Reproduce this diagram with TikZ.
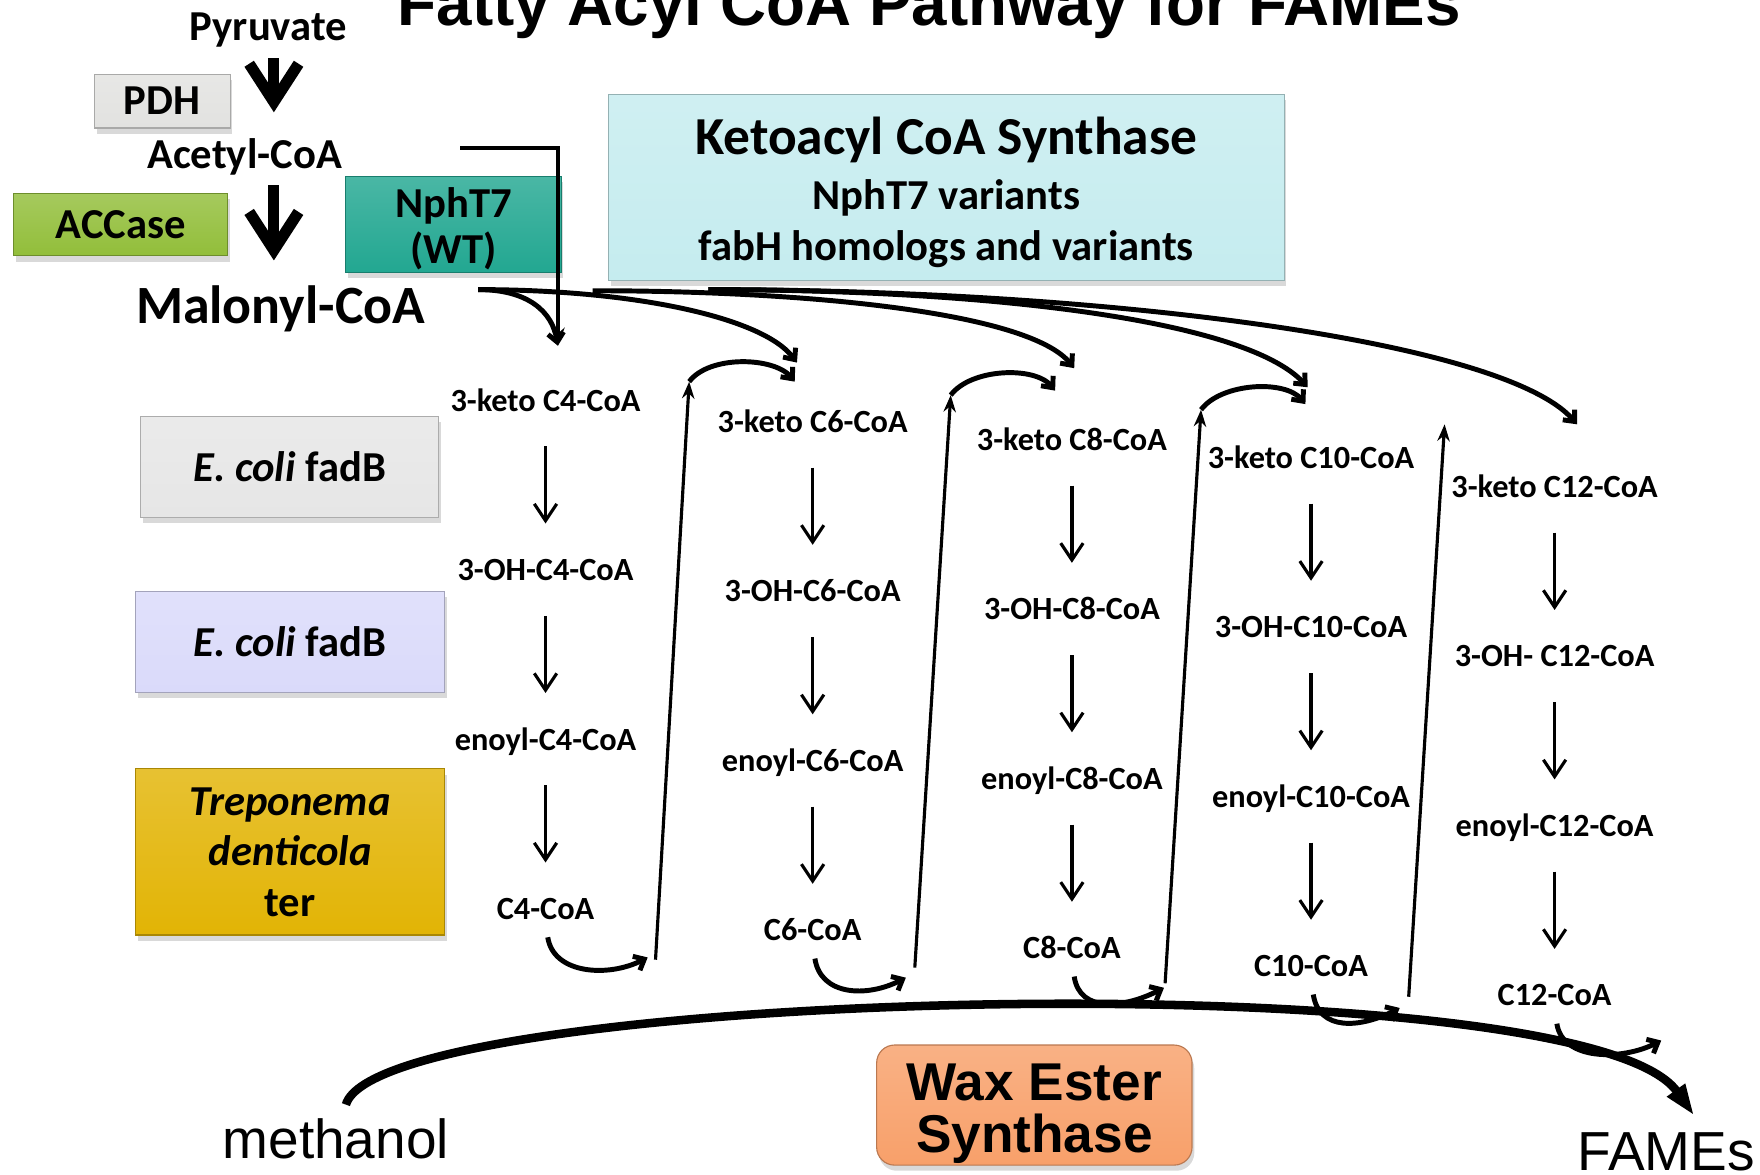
\documentclass[tikz,border=0pt]{standalone}
\usepackage{fontspec}
\setmainfont{Carlito}
\newfontfamily\arialfont{Liberation Sans}
\usepackage{tikz}
\usetikzlibrary{arrows.meta}
\usetikzlibrary{shadows}

\definecolor{pdhgray}{HTML}{E2E2E0}
\definecolor{accgreen}{HTML}{92BE3A}
\definecolor{nphteal}{HTML}{22A791}
\definecolor{kscyan}{HTML}{C5ECEF}
\definecolor{fadgray}{HTML}{E6E6E6}
\definecolor{fadlav}{HTML}{DADAFA}
\definecolor{trepgold}{HTML}{E2B405}
\definecolor{waxorange}{HTML}{F8A06A}

\begin{document}
\begin{tikzpicture}[x=0.5pt, y=-0.5pt,
    every node/.style={inner sep=0pt},
    lbl/.style={font=\bfseries\fontsize{19}{22}\selectfont, text height=12.2pt, text depth=0pt},
    coa/.style={font=\bfseries\fontsize{14.4}{16}\selectfont, text height=9.2pt, text depth=0pt},
    box/.style={draw=#1!75!black, line width=0.5pt, top color=#1!82!white, bottom color=#1,
        drop shadow={shadow xshift=1pt, shadow yshift=-2.5pt, opacity=0.3},
        align=center, font=\bfseries\fontsize{19}{22}\selectfont},
    conv/.style={line width=1.4pt, -{Straight Barb[length=7.5pt,width=10pt]}, shorten <=15.5pt, shorten >=16pt},
    rise/.style={line width=1.4pt, -{Stealth[length=7.5pt,width=5.5pt]}},
    curl/.style={line width=2.2pt, -{Straight Barb[length=4pt,width=7pt]}},
    feed/.style={line width=2pt, -{Stealth[length=8pt,width=6pt]}},
    fat/.style={line width=5pt, -{Straight Barb[length=17pt,width=22pt]}},
    wide arc/.style={line width=3.8pt, -{Triangle[length=14pt,width=9pt]}}]
    \useasboundingbox (0,0) rectangle (1568,1046);

    \node[font=\arialfont\bfseries\fontsize{28.4}{30}\selectfont, anchor=base] (title) at (828,23) {Fatty Acyl CoA Pathway for FAMEs};

    % upstream
    \node[lbl] (pyr) at (239,24) {Pyruvate};
    \node[lbl] (acet) at (218,138) {Acetyl-CoA};
    \node[lbl, font=\bfseries\fontsize{24}{27}\selectfont, text height=15.4pt] (mal) at (250,273) {Malonyl-CoA};
    \node[box=pdhgray, minimum width=60.5pt, minimum height=24pt] (pdh) at (144.5,90) {PDH};
    \node[box=accgreen, minimum width=95.5pt, minimum height=28pt] (acc) at (107.5,200) {ACCase};
    \node[box=nphteal, minimum width=96pt, minimum height=43pt, font=\bfseries\fontsize{19}{20.5}\selectfont] (nph) at (404,200)
        {\rule{0pt}{17pt}NphT7\\(WT)};
    \draw[fat] ([shift={(5,28)}]pyr.center) -- ([shift={(26,-38)}]acet.center);
    \draw[fat] ([shift={(26,27)}]acet.center) -- ([shift={(-6,-41)}]mal.center);

    \node[box=kscyan, minimum width=301pt, minimum height=83pt, font=\bfseries\fontsize{19}{23}\selectfont] (ks) at (843,167)
        {{\fontsize{23.8}{24}\selectfont\rule{0pt}{21pt}Ketoacyl CoA Synthase}\\[1.5pt]
         NphT7 variants\\
         fabH homologs and variants};

    % enzymes
    \node[box=fadgray, minimum width=133pt, minimum height=45pt] (fad1) at (258,416) {\textit{E. coli} fadB};
    \node[box=fadlav, minimum width=137.5pt, minimum height=45pt] (fad2) at (258.5,572) {\textit{E. coli} fadB};
    \node[box=trepgold, minimum width=137.5pt, minimum height=74pt,
        font=\bfseries\fontsize{19}{22.5}\selectfont] (ter) at (258.5,759) {\textit{Treponema}\\\textit{denticola}\\ter};

    % cycles
    \foreach \n/\x/\y/\oh in {4/486/357/{3-OH-C4-CoA}, 6/724/376/{3-OH-C6-CoA},
        8/955/392/{3-OH-C8-CoA}, 10/1168/408/{3-OH-C10-CoA}, 12/1385/434/{3-OH- C12-CoA}}{
        \node[coa] (k\n) at (\x,\y) {3-keto C\n-CoA};
        \node[coa] (h\n) at (\x,\y+151) {\oh};
        \node[coa] (e\n) at (\x,\y+302) {enoyl-C\n-CoA};
        \node[coa] (c\n) at (\x,\y+453) {C\n-CoA};
        \draw[conv] (k\n) -- (h\n);
        \draw[conv] (h\n) -- (e\n);
        \draw[conv] (e\n) -- (c\n);
    }
    \foreach \i/\bx/\by/\tx/\ty in {1/584/855/614/340, 2/815/862/847/352,
        3/1038/876/1070/365, 4/1255/888/1287/378}{
        \coordinate (ub\i) at (\bx,\by);
        \coordinate (ut\i) at (\tx,\ty);
        \draw[rise] (ub\i) -- (ut\i);
    }
    \foreach \n/\ex/\ey in {4/577/853, 6/807/871, 8/1037/880, 10/1247/898, 12/1480/927}{
        \coordinate (ce\n) at (\ex,\ey);
        \draw[curl] ([shift={(2,25)}]c\n.center) .. controls +(5,33) and +(-35,18) .. (ce\n);
    }
    \foreach \i/\hx/\hy in {1/708/340, 2/940/348, 3/1163/360}{
        \coordinate (hp\i) at (\hx,\hy);
        \draw[curl] (ut\i) .. controls +(18,-24) and +(-18,-22) .. (hp\i);
    }

    % malonyl feeds
    \coordinate (ms1) at (426,258);
    \coordinate (ms2) at (528,259);
    \coordinate (ms3) at (631,258);
    \coordinate (m4) at (497,308);
    \coordinate (m6) at (710,323);
    \coordinate (m8) at (957,328);
    \coordinate (m10) at (1165,345);
    \coordinate (m12) at (1405,378);
    \draw[curl] (ms1) .. controls +(45,0) and +(-5,-30) .. (m4);
    \draw[curl] (ms1) .. controls +(140,0) and +(-30,-40) .. (m6);
    \draw[curl] (ms2) .. controls +(190,0) and +(-40,-50) .. (m8);
    \draw[curl] (ms3) .. controls +(250,0) and +(-55,-60) .. (m10);
    \draw[curl] (ms3) .. controls +(350,0) and +(-65,-75) .. (m12);
    \coordinate (acs) at (410,132);
    \draw[feed] (acs) -| (m4);

    % esterification
    \node[font=\arialfont\fontsize{24.5}{26}\selectfont, anchor=base west] (meth) at (198,1032) {methanol};
    \node[font=\arialfont\fontsize{24.5}{26}\selectfont, anchor=base west] (fames) at (1405,1043) {FAMEs};
    \node[box=waxorange, rounded corners=8pt, minimum width=140.5pt, minimum height=53.5pt,
        font=\arialfont\bfseries\fontsize{23.7}{23.5}\selectfont] (wax) at (921.5,984.5) {\rule{0pt}{24pt}Wax Ester\\Synthase};
    \draw[wide arc] ([shift={(9,-12)}]meth.north) .. controls +(30,-104) and +(-100,-140) .. ([shift={(25,-15)}]fames.north);
\end{tikzpicture}
\end{document}
